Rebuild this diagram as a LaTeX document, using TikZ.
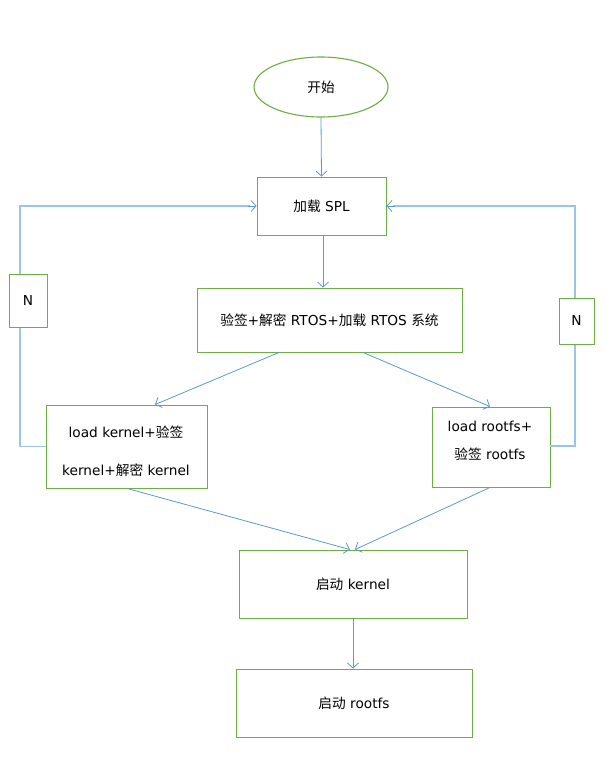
\documentclass[tikz,border=0pt]{standalone}
\usepackage{fontspec}
\setmainfont{DejaVu Sans}
\newfontfamily\cjk{Noto Sans CJK SC}
\usetikzlibrary{arrows.meta,shapes.geometric}
\definecolor{boxgreen}{HTML}{70AD47}
\definecolor{arrowblue}{HTML}{5B9BD5}
\definecolor{loopblue}{HTML}{9DC3E6}
\newcommand{\zh}[1]{{\cjk #1}}
\begin{document}
\begin{tikzpicture}[x=1pt,y=-1pt,
  every node/.style={font=\fontsize{13.7}{16.5}\selectfont},
  procbox/.style={draw=boxgreen,line width=0.9pt,rectangle,inner sep=0pt,fill=white},
  textonly/.style={inner sep=0pt,align=center},
  flow/.style={draw=arrowblue,line width=0.8pt,-{Straight Barb[length=5pt,width=11pt]}},
  loopline/.style={draw=loopblue,line width=1.6pt},
  looparrow/.style={draw=arrowblue,line width=0.8pt,-{Straight Barb[length=5pt,width=11pt]}}]
\useasboundingbox (0,0) rectangle (607,766);
\fill[white] (0,0) rectangle (607,766);

\node[ellipse,draw=boxgreen,line width=1.1pt,minimum width=134pt,minimum height=60pt,inner sep=0pt] (start) at (321,87) {\zh{开始}};
\node[procbox,minimum width=129pt,minimum height=58pt] (spl) at (321.5,206) {\zh{加载} SPL};
\node[procbox,minimum width=265pt,minimum height=64pt] (rtos) at (329.5,320) {\zh{验签}+\zh{解密} RTOS+\zh{加载} RTOS \zh{系统}};
\node[procbox,minimum width=161pt,minimum height=83pt] (kload) at (126.5,446.5) {};
\node[textonly] (ktext) at (126,451.5) {load kernel+\zh{验签}\\[21pt]kernel+\zh{解密} kernel};
\node[procbox,minimum width=118pt,minimum height=80pt] (rload) at (491,447) {};
\node[textonly] (rtext) at (490,441) {load rootfs+\\[12pt]\zh{验签} rootfs};
\node[procbox,minimum width=228pt,minimum height=68pt] (kboot) at (353,584) {\zh{启动} kernel};
\node[procbox,minimum width=236pt,minimum height=68pt] (rboot) at (354,703) {\zh{启动} rootfs};

% feedback loops
\coordinate (lc1) at (20,446.5);
\coordinate (lc2) at (20,206);
\coordinate (rc1) at (575,446);
\coordinate (rc2) at (575,206);
\draw[loopline] (kload.west) -- (lc1) -- (lc2) -- ++(230,0);
\draw[looparrow] (lc2) ++(228,0) -- (spl.west);
\draw[loopline] (rload.east |- rc1) -- (rc1) -- (rc2) -- ++(-182,0);
\draw[looparrow] (rc2) ++(-180,0) -- (spl.east);
\node[procbox,minimum width=38pt,minimum height=53pt] (nl) at (28,300.5) {N};
\node[procbox,minimum width=35pt,minimum height=46pt] (nr) at (576.5,321) {N};

% main flow
\draw[flow] (start.south) -- (spl.north);
\draw[flow] ([xshift=1.5pt]spl.south) -- ([xshift=-6.5pt]rtos.north);
\draw[flow] ([xshift=-50.5pt]rtos.south) -- ([xshift=28.5pt]kload.north);
\draw[flow] ([xshift=33.5pt]rtos.south) -- ([xshift=-1pt]rload.north);
\draw[flow] ([xshift=0.5pt]kload.south) -- ([xshift=-3pt]kboot.north);
\draw[flow] ([xshift=-1pt]rload.south) -- ([xshift=2pt]kboot.north);
\draw[flow] (kboot.south) -- ([xshift=-1pt]rboot.north);
\end{tikzpicture}
\end{document}
